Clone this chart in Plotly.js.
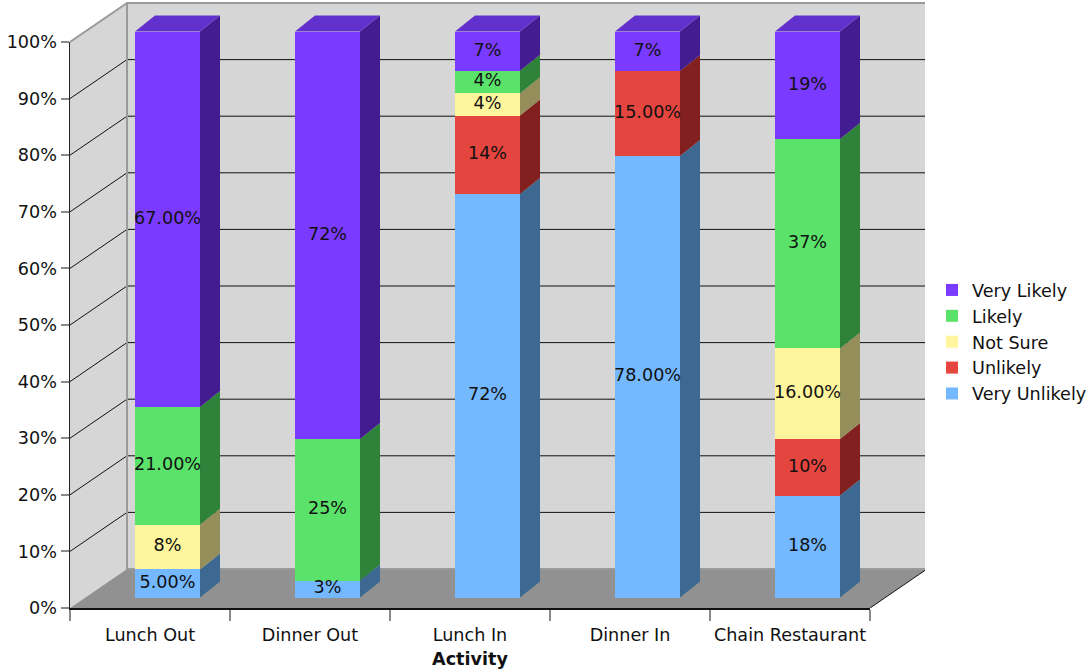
<!DOCTYPE html>
<html>
<head>
<meta charset="utf-8">
<script src="https://cdn.plot.ly/plotly-3.0.1.min.js"></script>
<style>html,body{margin:0;padding:0;background:#fff;}#chart{width:1092px;height:669px;}</style>
</head>
<body>
<div id="chart"></div>
<script>
// ---------- DATA ----------
const categories = ['Lunch Out', 'Dinner Out', 'Lunch In', 'Dinner In', 'Chain Restaurant'];
const seriesNames = ['Very Unlikely', 'Unlikely', 'Not Sure', 'Likely', 'Very Likely'];
const veryUnlikely = [5, 3, 72, 78, 18];
const unlikely     = [0, 0, 14, 15, 10];
const notSure      = [8, 0, 4, 0, 16];
const likely       = [21, 25, 4, 0, 37];
const veryLikely   = [67, 72, 7, 7, 19];
const veryUnlikelyLabels = ['5.00%', '3%', '72%', '78.00%', '18%'];
const unlikelyLabels     = ['', '', '14%', '15.00%', '10%'];
const notSureLabels      = ['8%', '', '4%', '', '16.00%'];
const likelyLabels       = ['21.00%', '25%', '4%', '', '37%'];
const veryLikelyLabels   = ['67.00%', '72%', '7%', '7%', '19%'];
const yTickValues = [0, 10, 20, 30, 40, 50, 60, 70, 80, 90, 100];
const xAxisTitle = 'Activity';

// ---------- STYLE ----------
const frontColors = ['#74b8ff', '#e5453f', '#fff59d', '#5ae26a', '#7b3aff'];
const sideColors  = ['#3d6891', '#82201f', '#958e5a', '#2e823a', '#441c91'];
const topColors   = ['#5a94d0', '#b83530', '#d0c880', '#46b854', '#6230cc'];
const FONT = 'DejaVu Sans, Verdana, sans-serif';
const FS = 17.6;

const W = 1092, H = 669;
const PX_CAT = 160;          // pixels per category on the front plane
const PX_PCT = 5.66;         // pixels per percent
const X0 = 70, Y0 = 608;     // front-plane origin (pixels)
const cx = px => px / PX_CAT;
const cy = px => px / PX_PCT;
const WALL_DX = cx(57), WALL_DY = cy(39);
const BAR_DX = cx(17.5), BAR_DY = cy(10.5);
const BAR_W = 65 / PX_CAT;
const DEP_DX = cx(20), DEP_DY = cy(16);

const allSeries = [veryUnlikely, unlikely, notSure, likely, veryLikely];
const allLabels = [veryUnlikelyLabels, unlikelyLabels, notSureLabels, likelyLabels, veryLikelyLabels];

// normalise to 100% stacks
const totals = categories.map((c, i) => allSeries.reduce((s, a) => s + a[i], 0));
const norm = allSeries.map(a => a.map((v, i) => v / totals[i] * 100));
const bases = [];
let running = categories.map(() => 0);
norm.forEach(a => { bases.push(running.slice()); running = running.map((r, i) => r + a[i]); });

const traces = [];
const xc = categories.map((c, i) => i + BAR_DX);

// front faces (bars)
norm.forEach((a, s) => {
  traces.push({
    type: 'bar', name: seriesNames[s], x: xc,
    y: a.map(v => v > 0 ? v : null),
    base: bases[s].map(b => b + BAR_DY),
    width: BAR_W,
    marker: {color: frontColors[s], line: {width: 0}},
    legendrank: 100 - s, showlegend: true, hoverinfo: 'skip', xaxis: 'x', yaxis: 'y'
  });
});
// side faces
norm.forEach((a, s) => {
  const px = [], py = [];
  a.forEach((v, i) => {
    if (v <= 0) return;
    const xr = xc[i] + BAR_W / 2;
    const b = bases[s][i] + BAR_DY, t = b + v;
    px.push(xr, xr + DEP_DX, xr + DEP_DX, xr, xr, null);
    py.push(b, b + DEP_DY, t + DEP_DY, t, b, null);
  });
  traces.push({type: 'scatter', mode: 'lines', x: px, y: py, fill: 'toself',
    fillcolor: sideColors[s], line: {width: 0, color: sideColors[s]},
    showlegend: false, hoverinfo: 'skip', xaxis: 'x', yaxis: 'y'});
});
// top faces
categories.forEach((c, i) => {
  let topS = -1;
  norm.forEach((a, s) => { if (a[i] > 0) topS = s; });
  const T = bases[topS][i] + norm[topS][i] + BAR_DY;
  const xl = xc[i] - BAR_W / 2, xr = xc[i] + BAR_W / 2;
  traces.push({type: 'scatter', mode: 'lines',
    x: [xl, xr, xr + DEP_DX, xl + DEP_DX, xl], y: [T, T, T + DEP_DY, T + DEP_DY, T],
    fill: 'toself', fillcolor: topColors[topS], line: {width: 0, color: topColors[topS]},
    showlegend: false, hoverinfo: 'skip', xaxis: 'x', yaxis: 'y'});
});
// labels
norm.forEach((a, s) => {
  traces.push({type: 'scatter', mode: 'text', x: xc,
    y: a.map((v, i) => v > 0 ? bases[s][i] + v / 2 + BAR_DY : null),
    text: allLabels[s], textposition: 'middle center', cliponaxis: false,
    textfont: {family: FONT, size: FS, color: '#111'},
    showlegend: false, hoverinfo: 'skip', xaxis: 'x', yaxis: 'y'});
});
// dummy trace to show tick axes
traces.push({type: 'scatter', mode: 'markers', x: categories, y: categories.map(() => -50),
  marker: {opacity: 0}, showlegend: false, hoverinfo: 'skip', xaxis: 'x2', yaxis: 'y2'});

// ---------- 3D box shapes ----------
const shapes = [];
const wl = -0.5 + WALL_DX, wr = 4.5 + WALL_DX;
shapes.push({type: 'path', xref: 'x', yref: 'y', layer: 'below',
  path: `M${-0.5},0 L${-0.5},100 L${wl},${100 + WALL_DY} L${wl},${WALL_DY} Z`,
  fillcolor: '#d6d6d6', line: {width: 0}});
shapes.push({type: 'rect', xref: 'x', yref: 'y', layer: 'below',
  x0: wl, x1: wr, y0: WALL_DY, y1: 100 + WALL_DY, fillcolor: '#d6d6d6', line: {width: 0}});
shapes.push({type: 'path', xref: 'x', yref: 'y', layer: 'below',
  path: `M${-0.5},0 L4.5,0 L${wr},${WALL_DY} L${wl},${WALL_DY} Z`,
  fillcolor: '#919191', line: {width: 0}});
yTickValues.forEach(v => {
  if (v === 0 || v === 100) return;
  shapes.push({type: 'line', xref: 'x', yref: 'y', layer: 'below',
    x0: wl, x1: wr, y0: v + WALL_DY, y1: v + WALL_DY, line: {color: '#111', width: 1}});
  shapes.push({type: 'line', xref: 'x', yref: 'y', layer: 'below',
    x0: -0.5, x1: wl, y0: v, y1: v + WALL_DY, line: {color: '#111', width: 1}});
});
shapes.push({type: 'rect', xref: 'x', yref: 'y', layer: 'below',
  x0: wl, x1: wr, y0: WALL_DY, y1: 100 + WALL_DY, fillcolor: 'rgba(0,0,0,0)', line: {color: '#9a9a9a', width: 2}});
shapes.push({type: 'line', xref: 'x', yref: 'y', layer: 'below',
  x0: -0.5, x1: wl, y0: 100, y1: 100 + WALL_DY, line: {color: '#9a9a9a', width: 2}});
shapes.push({type: 'line', xref: 'x', yref: 'y', layer: 'below',
  x0: 4.5, x1: wr, y0: 0, y1: WALL_DY, line: {color: '#111', width: 1}});

const layout = {
  width: W, height: H,
  margin: {l: 0, r: 0, t: 0, b: 0, pad: 0},
  paper_bgcolor: '#fff', plot_bgcolor: 'rgba(0,0,0,0)',
  font: {family: FONT, size: FS, color: '#111'},
  barmode: 'overlay', bargap: 0,
  showlegend: true,
  legend: {x: 1, xanchor: 'right', y: 1 - 342 / H, yanchor: 'middle',
    font: {family: FONT, size: FS, color: '#111'}, bgcolor: 'rgba(0,0,0,0)',
    itemwidth: 30, tracegroupgap: 0},
  xaxis: {domain: [X0 / W, 925 / W], range: [-0.5, -0.5 + 855 / PX_CAT], visible: false,
    fixedrange: true, automargin: false},
  yaxis: {domain: [1 - Y0 / H, 1 - 2 / H], range: [0, (Y0 - 2) / PX_PCT], visible: false,
    fixedrange: true, automargin: false},
  xaxis2: {domain: [X0 / W, 870 / W], anchor: 'y2', type: 'category',
    categoryorder: 'array', categoryarray: categories, range: [-0.5, 4.5],
    tickson: 'boundaries', ticks: 'outside', ticklen: 11, tickwidth: 2, tickcolor: '#8a8a8a',
    ticklabelstandoff: 10, tickangle: 0,
    showline: true, linecolor: '#111', linewidth: 1.5, showgrid: false, zeroline: false,
    tickfont: {family: FONT, size: FS, color: '#111'},
    title: {text: '<b>' + xAxisTitle + '</b>', standoff: 9, font: {family: FONT, size: FS, color: '#111'}},
    automargin: false, fixedrange: true},
  yaxis2: {domain: [1 - Y0 / H, 1 - 42 / H], anchor: 'x2', range: [0, 100],
    tickvals: yTickValues, ticktext: yTickValues.map(v => v + '%'),
    ticks: 'outside', ticklen: 8, tickwidth: 2, tickcolor: '#8a8a8a',
    showline: true, linecolor: '#222', linewidth: 1.5, showgrid: false, zeroline: false,
    tickfont: {family: FONT, size: FS, color: '#111'},
    automargin: false, fixedrange: true},
  shapes: shapes
};

Plotly.newPlot('chart', traces, layout, {displayModeBar: false, staticPlot: true});
</script>
</body>
</html>
